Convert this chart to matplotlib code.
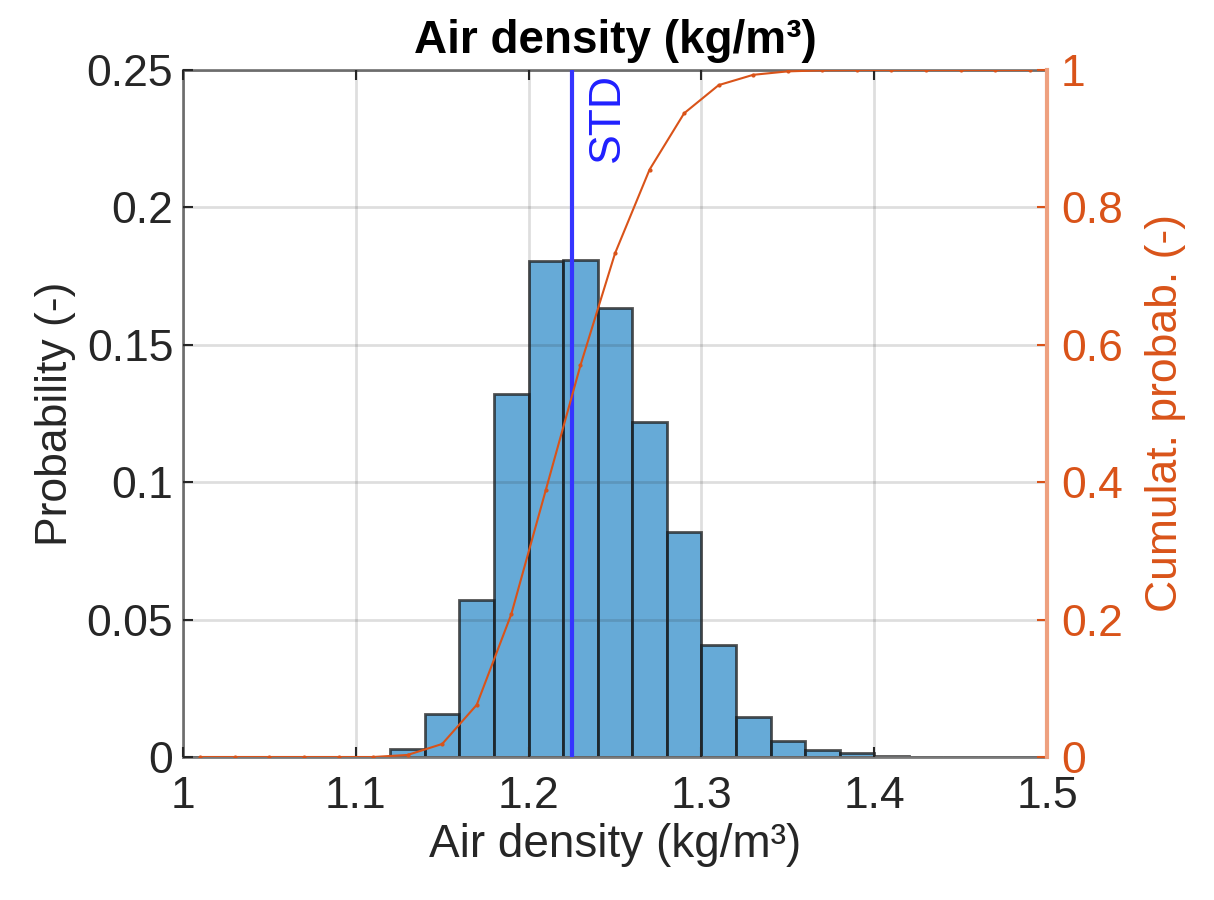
import matplotlib
matplotlib.use("Agg")
import matplotlib.pyplot as plt
import numpy as np

# Data
bin_edges = [1.00, 1.02, 1.04, 1.06, 1.08, 1.10, 1.12, 1.14, 1.16, 1.18, 1.20, 1.22, 1.24,
             1.26, 1.28, 1.30, 1.32, 1.34, 1.36, 1.38, 1.40, 1.42, 1.44, 1.46, 1.48, 1.50]
probability = [0.0, 0.0, 0.0, 0.0, 0.0, 0.0, 0.003, 0.0156, 0.057, 0.132, 0.1805, 0.181,
               0.1635, 0.122, 0.082, 0.0408, 0.0146, 0.0058, 0.0025, 0.0013, 0.0004,
               0.0, 0.0, 0.0, 0.0]
cdf_x = [1.01, 1.03, 1.05, 1.07, 1.09, 1.11, 1.13, 1.15, 1.17, 1.19, 1.21, 1.23, 1.25,
         1.27, 1.29, 1.31, 1.33, 1.35, 1.37, 1.39, 1.41, 1.43, 1.45, 1.47, 1.49]
cdf = [0.0, 0.0, 0.0, 0.0, 0.0, 0.0, 0.003, 0.019, 0.076, 0.208, 0.389, 0.570, 0.733,
       0.855, 0.937, 0.978, 0.993, 0.998, 0.9995, 1.0, 1.0, 1.0, 1.0, 1.0, 1.0]
std_x = 1.225
x_ticks = [1, 1.1, 1.2, 1.3, 1.4, 1.5]
x_ticklabels = ["1", "1.1", "1.2", "1.3", "1.4", "1.5"]
y_ticks = [0, 0.05, 0.1, 0.15, 0.2, 0.25]
y_ticklabels = ["0", "0.05", "0.1", "0.15", "0.2", "0.25"]
y2_ticks = [0, 0.2, 0.4, 0.6, 0.8, 1]
y2_ticklabels = ["0", "0.2", "0.4", "0.6", "0.8", "1"]

plt.rcParams['font.family'] = ['Liberation Sans', 'DejaVu Sans']
dark = '#262626'
orange = '#D95319'
fs = 32

fig = plt.figure(figsize=(12.14, 9.0), dpi=100)
ax = fig.add_axes([183/1214, 1 - 757/900, (1047-183)/1214, (757-70)/900])

lefts = np.array(bin_edges[:-1])
widths = np.diff(bin_edges)
ax.bar(lefts, probability, width=widths, align='edge',
       color=(0, 0.447, 0.741, 0.6), edgecolor=(0.1, 0.1, 0.1, 0.75), linewidth=2.0, zorder=2)
ax.axvline(std_x, color='#3535ff', linewidth=3.0, zorder=4)
ax.text(std_x + 0.009, 0.249, 'STD', rotation=90, color='#2020ff', fontsize=fs,
        ha='left', va='top', zorder=5)

ax.set_xlim(1, 1.5)
ax.set_ylim(0, 0.25)
ax.set_xticks(x_ticks)
ax.set_xticklabels(x_ticklabels)
ax.set_yticks(y_ticks)
ax.set_yticklabels(y_ticklabels)
ax.tick_params(axis='both', direction='in', length=7, width=1.5, color=dark,
               labelcolor=dark, labelsize=fs, top=True, right=False)
ax.tick_params(axis='x', pad=14)
ax.tick_params(axis='y', pad=7)
ax.grid(True, color='#262626', alpha=0.15, linewidth=2.0)
ax.set_axisbelow(False)
for s in ['left', 'bottom', 'top']:
    ax.spines[s].set_color('#7a7a7a')
    ax.spines[s].set_linewidth(2.0)
ax.spines['right'].set_visible(False)
ax.set_xlabel('Air density (kg/m³)', fontsize=33, color=dark, labelpad=4)
ax.set_ylabel('Probability (-)', fontsize=fs, color=dark, labelpad=8)
ax.set_title('Air density (kg/m³)', fontsize=33, fontweight='bold', color='black', pad=12)

ax2 = ax.twinx()
ax2.plot(cdf_x, cdf, color=orange, linewidth=1.5, marker='.', markersize=4, zorder=5)
ax2.set_ylim(0, 1)
ax2.set_yticks(y2_ticks)
ax2.set_yticklabels(y2_ticklabels)
ax2.tick_params(axis='y', direction='in', length=7, width=1.5, color=orange,
                labelcolor=orange, labelsize=fs, pad=10)
for s in ['left', 'bottom', 'top']:
    ax2.spines[s].set_visible(False)
ax2.spines['right'].set_color('#eea07f')
ax2.spines['right'].set_linewidth(3.0)
ax2.set_ylabel('Cumulat. probab. (-)', fontsize=fs, color=orange, labelpad=16)

fig.savefig('out.png', dpi=100)
